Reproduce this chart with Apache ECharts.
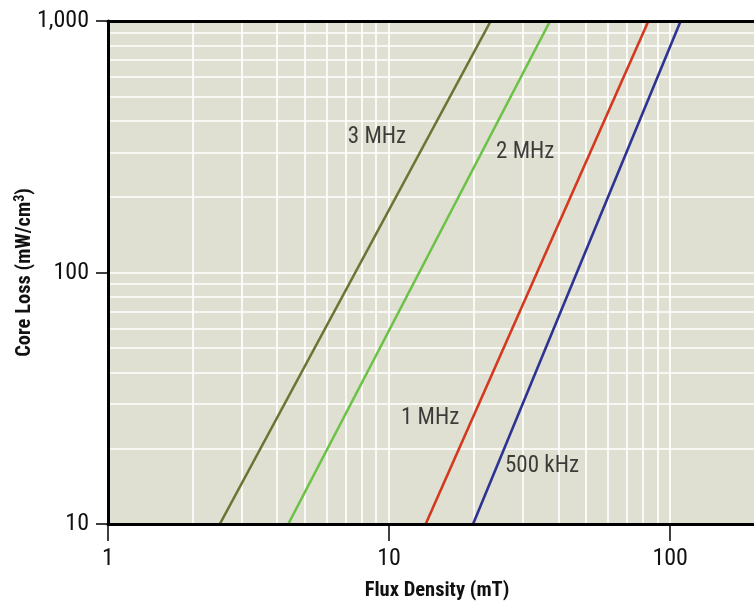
<!DOCTYPE html>
<html><head><meta charset="utf-8">
<script src="https://cdn.jsdelivr.net/npm/echarts@6/dist/echarts.min.js"></script>
<style>html,body{margin:0;padding:0;background:#fff;}#c{width:754px;height:610px;}</style>
</head><body><div id="c"></div>
<script>
// ---- data ----
const seriesNames = ['3 MHz', '2 MHz', '1 MHz', '500 kHz'];
const flux3MHz = [2.5, 23.0];
const flux2MHz = [4.38, 37.4];
const flux1MHz = [13.5, 83.7];
const flux500kHz = [19.9, 109];
const coreLoss = [10, 1000];
const labelFlux = [9.06, 30.5, 14.0, 35.0];
const labelLoss = [346, 301, 26.4, 17.0];
const xTicks = [1, 10, 100];
const yTicks = [10, 100, 1000];
const xGridValues = [2,3,4,5,6,7,8,9,10,20,30,40,50,60,70,80,90,100];
const yGridValues = [20,30,40,50,60,70,80,90,100,200,300,400,500,600,700,800,900];

const colors = ['#6b7432', '#6cc247', '#d2391f', '#2d3392'];
const FONT = '"Roboto Condensed", "Noto Sans Condensed", "Liberation Sans Narrow", "DejaVu Sans Condensed", sans-serif';
const fluxSets = [flux3MHz, flux2MHz, flux1MHz, flux500kHz];

const chart = echarts.init(document.getElementById('c'));

const gridLineSeries = {
  type: 'line', data: [], zlevel: 0, z: 1, silent: true,
  markLine: {
    silent: true, symbol: ['none', 'none'], animation: false,
    label: { show: false },
    lineStyle: { color: '#ffffff', width: 1.6, type: 'solid' },
    data: xGridValues.map(v => ({ xAxis: v })).concat(yGridValues.map(v => ({ yAxis: v })))
  }
};

const lineSeries = seriesNames.map((n, i) => ({
  name: n, type: 'line', zlevel: 1, z: 3, symbol: 'none', animation: false,
  lineStyle: { color: colors[i], width: 2.6 },
  data: fluxSets[i].map((f, j) => [f, coreLoss[j]])
}));

const labelSeries = {
  type: 'scatter', zlevel: 1, z: 4, symbolSize: 0, animation: false, silent: true,
  data: seriesNames.map((n, i) => ({ value: [labelFlux[i], labelLoss[i]], name: n })),
  label: { show: true, position: [0, 0], align: 'center', verticalAlign: 'middle', overflow: 'none',
    formatter: p => p.name, fontFamily: FONT, fontSize: 23, color: '#111' }
};

const xCommon = { type: 'log', logBase: 10, min: 1, max: 250 };

chart.setOption({
  animation: false,
  grid: { left: 108, top: 21, bottom: 86, right: -28, show: true, backgroundColor: '#e0e0d2', borderWidth: 0,
    containLabel: false, outerBoundsMode: 'none' },
  xAxis: [
    Object.assign({}, xCommon, {
      position: 'bottom', zlevel: 1, z: 10,
      name: 'Flux Density (mT)', nameLocation: 'middle', nameGap: 56,
      nameTextStyle: { fontFamily: FONT, fontSize: 20.5, fontWeight: 'bold', color: '#111', padding: [0, 16, 0, 0] },
      axisLine: { show: true, onZero: false, lineStyle: { color: '#000', width: 3 } },
      axisTick: { show: true, inside: false, length: 17, lineStyle: { color: '#000', width: 1.5 } },
      axisLabel: { show: true, margin: 23, fontFamily: FONT, fontSize: 24, color: '#111', showMaxLabel: false,
        formatter: v => xTicks.indexOf(v) >= 0 ? String(v) : '' },
      splitLine: { show: false }, minorTick: { show: false }
    }),
    Object.assign({}, xCommon, {
      position: 'top', zlevel: 1, z: 10,
      axisLine: { show: true, onZero: false, lineStyle: { color: '#000', width: 3 } },
      axisTick: { show: false }, axisLabel: { show: false }, splitLine: { show: false }
    })
  ],
  yAxis: {
    type: 'log', logBase: 10, min: 10, max: 1000, zlevel: 1, z: 10,
    name: 'Core Loss (mW/cm{sup|3})', nameLocation: 'middle', nameGap: 72, nameRotate: 90, nameMoveOverlap: false,
    nameTextStyle: { fontFamily: FONT, fontSize: 20.5, fontWeight: 'bold', color: '#111',
      rich: { sup: { fontFamily: FONT, fontSize: 14, fontWeight: 'bold', color: '#111', verticalAlign: 'top', padding: [0, 0, 9, 0] } } },
    axisLine: { show: true, onZero: false, lineStyle: { color: '#000', width: 3 } },
    axisTick: { show: true, inside: false, length: 12, lineStyle: { color: '#000', width: 1.5 } },
    axisLabel: { show: true, margin: 19, fontFamily: FONT, fontSize: 24, color: '#111',
      formatter: v => yTicks.indexOf(v) >= 0 ? v.toLocaleString('en-US') : '' },
    splitLine: { show: false }
  },
  series: [gridLineSeries].concat(lineSeries).concat([labelSeries])
});
</script>
</body></html>
